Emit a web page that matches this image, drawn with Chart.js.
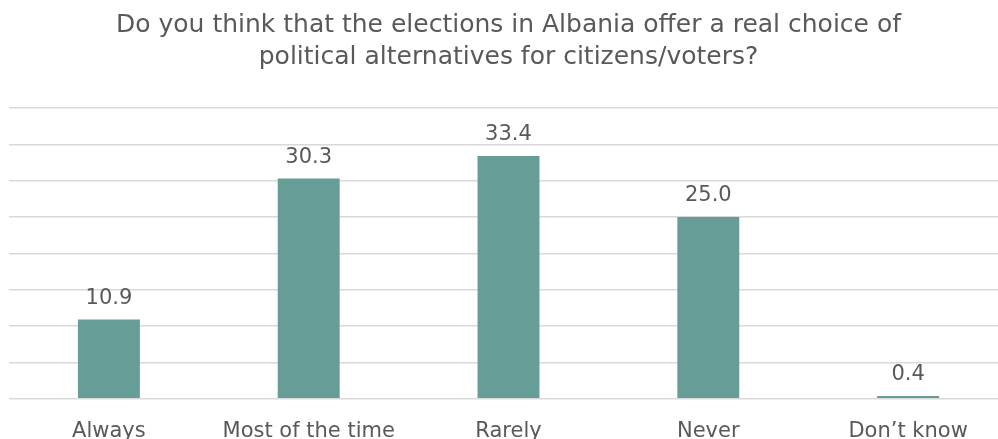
<!DOCTYPE html>
<html>
<head>
<meta charset="utf-8">
<script src="https://cdn.jsdelivr.net/npm/chart.js@4/dist/chart.umd.min.js"></script>
<style>
    html, body { margin: 0; padding: 0; background: #fff; overflow: hidden; }
    #wrap { width: 1008px; height: 456px; position: relative; }
</style>
</head>
<body>
<div id="wrap"><canvas id="bar-chart"></canvas></div>
<script>
(function () {
    'use strict';

    var grey = '#595959',
        teal = '#669d97',
        gridGrey = '#d9d9d9',
        fontName = 'DejaVu Sans';

    var categories = ['Always', 'Most of the time', 'Rarely', 'Never', 'Don\u2019t know'];
    var shares = [10.9, 30.3, 33.4, 25.0, 0.4];
    var titleLines = ['Do you think that the elections in Albania offer a real choice of',
                      'political alternatives for citizens/voters?'];

    // value labels above each bar
    var valueLabels = {
        id: 'valueLabels',
        afterDatasetsDraw: function (chart) {
            var ctx = chart.ctx;
            var meta = chart.getDatasetMeta(0);
            ctx.save();
            ctx.font = '21px "' + fontName + '"';
            ctx.fillStyle = grey;
            ctx.textAlign = 'center';
            ctx.textBaseline = 'alphabetic';
            meta.data.forEach(function (bar, i) {
                ctx.fillText(shares[i].toFixed(1), bar.x, bar.y - 16);
            });
            ctx.restore();
        }
    };

    var barChart = document.getElementById('bar-chart');
    new Chart(barChart.getContext('2d'), {
        type: 'bar',
        data: {
            labels: categories,
            datasets: [{
                data: shares,
                backgroundColor: teal,
                borderWidth: 0,
                categoryPercentage: 1,
                barPercentage: 0.31
            }]
        },
        options: {
            responsive: true,
            maintainAspectRatio: false,
            animation: false,
            layout: { padding: { left: 9, right: 0, top: 9, bottom: 0 } },
            plugins: {
                legend: { display: false },
                tooltip: { enabled: false },
                title: {
                    display: true,
                    text: titleLines,
                    color: grey,
                    font: { family: fontName, size: 25, weight: 'normal', lineHeight: 1.28 },
                    padding: { top: 0, bottom: 35 }
                }
            },
            scales: {
                x: {
                    grid: { display: false },
                    border: { display: false },
                    ticks: {
                        color: grey,
                        padding: 12,
                        font: { family: fontName, size: 21 }
                    }
                },
                y: {
                    min: 0,
                    max: 40,
                    ticks: { display: false, stepSize: 5 },
                    border: { display: false },
                    grid: { color: gridGrey, lineWidth: 1.5, drawTicks: false }
                }
            }
        },
        plugins: [valueLabels]
    });
})();
</script>
</body>
</html>
